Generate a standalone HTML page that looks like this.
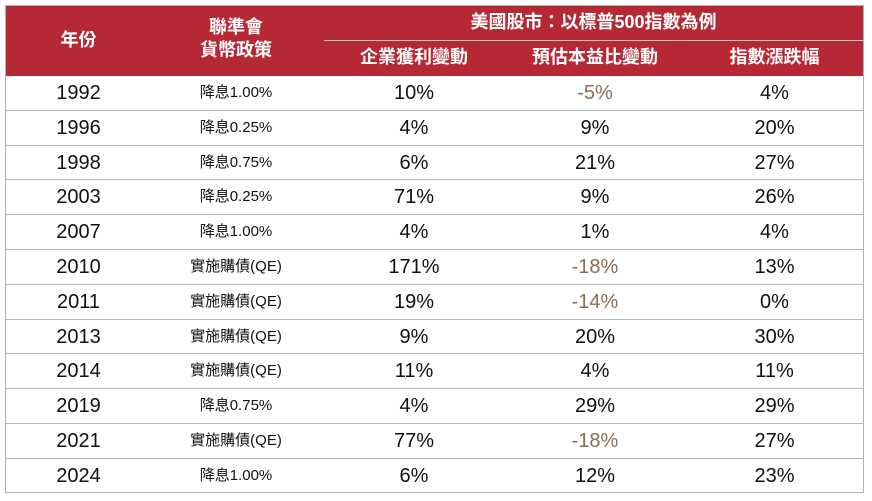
<!DOCTYPE html>
<html><head><meta charset="utf-8"><style>
body{margin:0;width:872px;height:501px;background:#fff;font-family:"Liberation Sans","Noto Sans CJK TC",sans-serif;overflow:hidden}
#t{position:absolute;left:5px;top:5px;width:859px;height:488px;border:1px solid #b0b0b0;box-sizing:border-box}
.hd{position:absolute;left:0;top:0;width:857px;height:70px;background:#b72835;color:#fff;font-weight:bold}
.h{position:absolute;text-align:center;font-size:18px;line-height:23px}
.row{position:absolute;left:0;width:857px;height:34.8px;border-bottom:1px solid #b8b8b8;box-sizing:border-box}
.c{position:absolute;top:0;height:34px;line-height:34px;text-align:center;font-size:20px;color:#111}
.p{font-size:15px}
.n{color:#8e6d50}
</style></head><body>
<div id="t">
<div class="hd">
<div class="h" style="left:0;width:145px;top:23px">年份</div>
<div class="h" style="left:145px;width:170px;top:10px">聯準會<br>貨幣政策</div>
<div class="h" style="left:318px;width:539px;top:5px">美國股市：以標普500指數為例</div>
<div style="position:absolute;left:318px;top:34px;width:539px;height:1px;background:#c9c9c9"></div>
<div class="h" style="left:318px;width:180px;top:40px">企業獲利變動</div>
<div class="h" style="left:498px;width:182px;top:40px">預估本益比變動</div>
<div class="h" style="left:680px;width:177px;top:40px">指數漲跌幅</div>
</div>
<div id="rows"></div>
</div>
<script>
var d=[["1992","降息1.00%","10%","-5%","4%"],["1996","降息0.25%","4%","9%","20%"],["1998","降息0.75%","6%","21%","27%"],["2003","降息0.25%","71%","9%","26%"],["2007","降息1.00%","4%","1%","4%"],["2010","實施購債(QE)","171%","-18%","13%"],["2011","實施購債(QE)","19%","-14%","0%"],["2013","實施購債(QE)","9%","20%","30%"],["2014","實施購債(QE)","11%","4%","11%"],["2019","降息0.75%","4%","29%","29%"],["2021","實施購債(QE)","77%","-18%","27%"],["2024","降息1.00%","6%","12%","23%"]];
var cols=[[0,145],[145,170],[318,180],[498,182],[680,177]];
var h="";
d.forEach(function(r,i){
h+='<div class="row" style="top:'+(70+i*34.8)+'px'+(i==11?';border-bottom:none':'')+'">';
r.forEach(function(v,j){
var cl="c"+(j==1?" p":"")+(v[0]=="-"?" n":"");
h+='<div class="'+cl+'" style="left:'+cols[j][0]+'px;width:'+cols[j][1]+'px">'+v+'</div>';
});
h+='</div>';
});
document.getElementById("rows").innerHTML=h;
</script>
</body></html>
